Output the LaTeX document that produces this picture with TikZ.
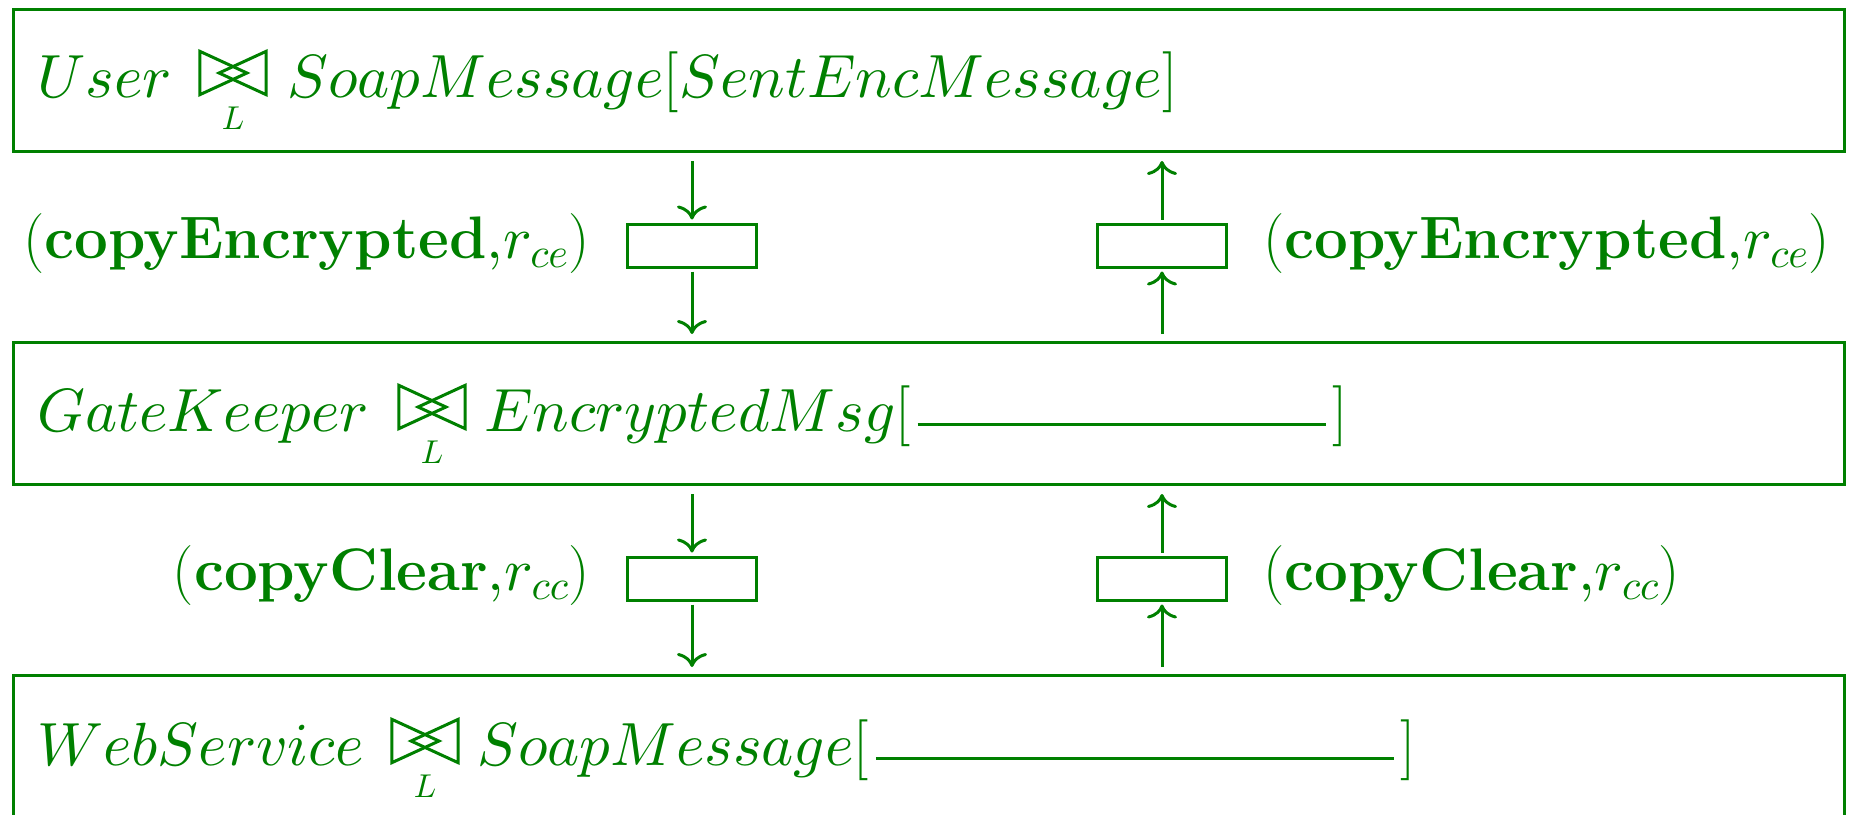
\RequirePackage{fix-cm}
\documentclass[tikz,border=0pt]{standalone}
\usetikzlibrary{arrows.meta,calc}
\DeclareFontShape{OML}{cmm}{m}{it}{<->cmmi10}{\skewchar\font'177}
\definecolor{dg}{RGB}{0,128,0}
\tikzset{
  frame/.style={draw=dg, line width=3pt, inner sep=0pt, anchor=north west},
  smallbox/.style={draw=dg, line width=3pt, minimum width=129pt, minimum height=43pt, inner sep=0pt},
  bow/.style={minimum width=66pt, minimum height=43pt, inner sep=0pt},
  bowline/.style={draw=dg, line width=3pt},
  maintext/.style={text=dg, inner sep=0pt, anchor=base west, font=\fontsize{61}{72}\selectfont},
  subL/.style={text=dg, inner sep=0pt, anchor=base, font=\fontsize{33}{36}\selectfont},
  lbl/.style={text=dg, inner sep=0pt, font=\fontsize{60}{72}\selectfont},
  flow/.style={draw=dg, line width=3pt, -{Computer Modern Rightarrow[length=14pt,width=30pt]}},
}
\begin{document}
\begin{tikzpicture}[x=1pt,y=-1pt]
\useasboundingbox (0,0) rectangle (1851,814);
\clip (0,0) rectangle (1851,814);
% big boxes
\node[frame, minimum width=1831pt, minimum height=142pt] (B1) at (12,8) {};
\node[frame, minimum width=1831pt, minimum height=142pt] (B2) at (12,341) {};
\node[frame, minimum width=1831pt, minimum height=200pt] (B3) at (12,674) {};
% small boxes
\node[smallbox] (s1) at (692,245.5) {};
\node[smallbox] (s2) at (1162,245.5) {};
\node[smallbox] (s3) at (692,578.5) {};
\node[smallbox] (s4) at (1162,578.5) {};
% arrows
\draw[flow, shorten <=8pt, shorten >=3pt] (s1 |- B1.south) -- (s1.north);
\draw[flow, shorten <=3pt, shorten >=7pt] (s1.south) -- (s1 |- B2.north);
\draw[flow, shorten <=3pt, shorten >=8pt] (s2.north) -- (s2 |- B1.south);
\draw[flow, shorten <=7pt, shorten >=3pt] (s2 |- B2.north) -- (s2.south);
\draw[flow, shorten <=8pt, shorten >=3pt] (s3 |- B2.south) -- (s3.north);
\draw[flow, shorten <=3pt, shorten >=7pt] (s3.south) -- (s3 |- B3.north);
\draw[flow, shorten <=3pt, shorten >=8pt] (s4.north) -- (s4 |- B2.south);
\draw[flow, shorten <=7pt, shorten >=3pt] (s4 |- B3.north) -- (s4.south);
% box texts
\node[maintext] (t1a) at (37,97) {$User$};
\node[bow] (b1) at (233,73) {};
\node[subL] (l1) at (233,129) {$L$};
\node[maintext] (t1b) at (287,97) {$SoapMessage[SentEncMessage]$};

\node[maintext] (t2a) at (37,431) {$GateKeeper$};
\node[bow] (b2) at (432,407) {};
\node[subL] (l2) at (432,463) {$L$};
\node[maintext] (t2b) at (484,431) {$EncryptedMsg[\mkern2mu\rule[5pt]{408pt}{3.2pt}\mkern2mu]$};

\node[maintext] (t3a) at (37,765) {$WebService$};
\node[bow] (b3) at (425,741) {};
\node[subL] (l3) at (425,797) {$L$};
\node[maintext] (t3b) at (477,765) {$SoapMessage[\mkern2mu\rule[5pt]{518pt}{3.2pt}\mkern2mu]$};
% bowties
\foreach \b in {b1,b2,b3}{
  \draw[bowline] (\b.north west) -- (\b.south west) -- ($(\b.west)!0.71!(\b.east)$) -- cycle;
  \draw[bowline] (\b.north east) -- (\b.south east) -- ($(\b.west)!0.29!(\b.east)$) -- cycle;
}
% labels
\node[lbl, anchor=base east] (c1) at (590,258) {$(\textbf{copyEncrypted}{,}r_{ce})$};
\node[lbl, anchor=base west] (c2) at (1263,258) {$(\textbf{copyEncrypted}{,}r_{ce})$};
\node[lbl, anchor=base east] (c3) at (590,590.5) {$(\textbf{copyClear}{,}r_{cc})$};
\node[lbl, anchor=base west] (c4) at (1263,590.5) {$(\textbf{copyClear}{,}r_{cc})$};
\end{tikzpicture}
\end{document}
